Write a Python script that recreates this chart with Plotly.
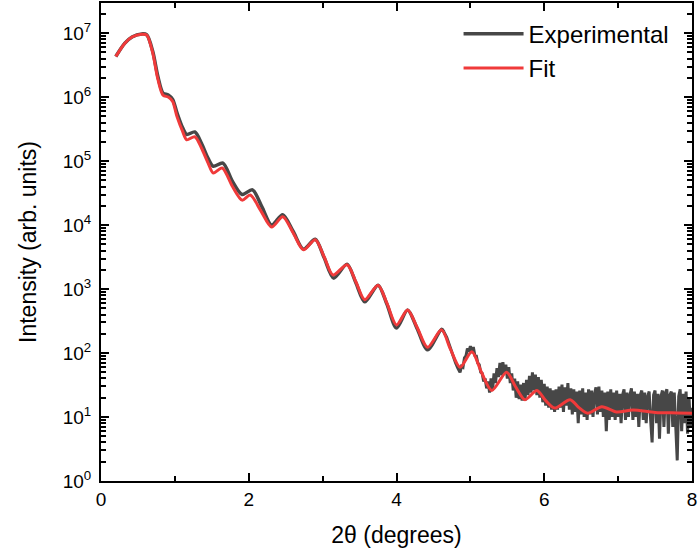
import plotly.graph_objects as go

# ---- Fit curve (key points) ----
fit_x = [0.20, 0.32, 0.42, 0.55, 0.62, 0.70, 0.77, 0.84, 0.91, 0.97, 1.03, 1.105, 1.16, 1.27, 1.36, 1.45,
         1.52, 1.64, 1.78, 1.91, 2.02, 2.16, 2.31, 2.46, 2.60, 2.74, 2.90, 3.02, 3.14, 3.33, 3.45,
         3.57, 3.75, 3.87, 4.00, 4.15, 4.28, 4.42, 4.61, 4.73, 4.86, 5.02, 5.15, 5.29, 5.49, 5.61,
         5.74, 5.90, 6.02, 6.14, 6.35, 6.47, 6.59, 6.78, 6.98, 7.20, 7.50, 7.80, 8.00]
fit_y = [4.3e6, 6.9e6, 8.7e6, 9.6e6, 9.3e6, 4.9e6, 1.9e6, 1.07e6, 1.0e6, 8.5e5, 4.9e5, 2.9e5, 2.15e5, 2.4e5, 1.6e5, 9.3e4,
         6.5e4, 7.8e4, 4.0e4, 2.45e4, 2.95e4, 1.7e4, 9.3e3, 1.35e4, 7.6e3, 4.1e3, 5.9e3, 3.2e3, 1.66e3, 2.4e3, 1.3e3,
         680, 1150, 600, 275, 470, 250, 123, 230, 115, 60, 105, 50, 26, 50, 30,
         18.6, 26, 18, 13.8, 18.6, 14, 11.5, 14.5, 12.0, 12.9, 11.8, 11.6, 11.5]

# ---- Experimental curve, smooth part ----
exp_x = [0.20, 0.32, 0.42, 0.55, 0.62, 0.70, 0.77, 0.84, 0.91, 0.97, 1.03, 1.105, 1.16, 1.27, 1.36, 1.45,
         1.52, 1.65, 1.78, 1.91, 2.05, 2.18, 2.31, 2.46, 2.60, 2.74, 2.90, 3.02, 3.15, 3.33, 3.45,
         3.57, 3.75, 3.87, 4.00, 4.15, 4.28, 4.42, 4.61, 4.64]
exp_y = [4.3e6, 6.9e6, 8.7e6, 9.7e6, 9.4e6, 5.2e6, 2.1e6, 1.15e6, 1.08e6, 9.2e5, 5.6e5, 3.3e5, 2.6e5, 2.85e5, 1.9e5, 1.1e5,
         8.3e4, 9.3e4, 4.8e4, 3.0e4, 3.55e4, 1.9e4, 1.0e4, 1.45e4, 8.0e3, 4.2e3, 6.0e3, 3.1e3, 1.48e3, 2.45e3, 1.25e3,
         630, 1150, 580, 245, 470, 240, 112, 235, 215]

# ---- Experimental curve, noisy part ----
noise_x = [4.64, 4.68, 4.71, 4.74, 4.77, 4.80, 4.83, 4.86, 4.88, 4.90, 4.92, 4.94, 4.96, 4.98, 5.00, 5.02, 5.04,
           5.06, 5.08, 5.10, 5.12, 5.14, 5.16, 5.18, 5.20, 5.22, 5.24, 5.26, 5.28, 5.30, 5.32, 5.34, 5.36, 5.38,
           5.40, 5.42, 5.44, 5.46, 5.48, 5.50, 5.52, 5.54, 5.56, 5.58, 5.60, 5.62, 5.64, 5.66, 5.68, 5.70, 5.72,
           5.74, 5.76, 5.78, 5.80, 5.82, 5.84, 5.86, 5.88, 5.90, 5.92, 5.94, 5.96, 5.98, 6.00, 6.02, 6.04, 6.06,
           6.08, 6.10, 6.12, 6.14, 6.16, 6.18, 6.20, 6.22, 6.24, 6.26, 6.28, 6.30, 6.32, 6.34, 6.36, 6.38, 6.40,
           6.42, 6.44, 6.46, 6.48, 6.50, 6.52, 6.54, 6.56, 6.58, 6.60, 6.62, 6.64, 6.66, 6.68, 6.70, 6.72, 6.74,
           6.76, 6.78, 6.80, 6.82, 6.84, 6.86, 6.88, 6.90, 6.92, 6.94, 6.96, 6.98, 7.00, 7.02, 7.04, 7.06, 7.08,
           7.10, 7.12, 7.14, 7.16, 7.18, 7.20, 7.22, 7.24, 7.26, 7.28, 7.30, 7.32, 7.34, 7.36, 7.38, 7.40, 7.42,
           7.44, 7.46, 7.48, 7.50, 7.52, 7.54, 7.56, 7.58, 7.60, 7.62, 7.64, 7.66, 7.68, 7.70, 7.72, 7.74, 7.76,
           7.78, 7.80, 7.82, 7.84, 7.86, 7.88, 7.90, 7.92, 7.94, 7.96, 7.98, 8.00]
noise_y = [215, 175, 140, 108, 85, 70, 58, 50, 62, 60, 84, 90, 118, 105, 128, 100, 124,
           92, 90, 70, 66, 50, 48, 36, 40, 28, 36, 24, 40, 26, 48, 34, 58, 42,
           70, 45, 72, 48, 66, 40, 60, 34, 48, 26, 40, 20, 36, 19, 32, 18, 34,
           18, 38, 22, 44, 24, 50, 26, 46, 22, 42, 20, 38, 17, 33, 15, 30, 14,
           28, 13, 26, 12, 27, 13, 30, 14, 32, 12, 29, 15, 34, 13, 28, 11, 27,
           12, 25, 8, 26, 11, 28, 10, 24, 9, 27, 11, 26, 10, 23, 29, 11, 30,
           12, 26, 10, 24, 6, 25, 9, 27, 10, 24, 9, 26, 10, 23, 8, 22, 27,
           9, 24, 10, 22, 28, 9, 25, 10, 23, 7, 22, 26, 9, 24, 8, 21, 25,
           9, 4.0, 22, 26, 8, 23, 4.6, 21, 26, 7, 24, 27, 5.5, 22, 25, 7, 24,
           9, 2.1, 21, 27, 6, 23, 8, 25, 5.5, 20, 7, 14]

ytick_vals = [1, 10, 100, 1e3, 1e4, 1e5, 1e6, 1e7]
ytick_text = ["10<sup>0</sup>", "10<sup>1</sup>", "10<sup>2</sup>", "10<sup>3</sup>",
              "10<sup>4</sup>", "10<sup>5</sup>", "10<sup>6</sup>", "10<sup>7</sup>"]
yminor_vals = [m * 10 ** k for k in range(0, 8) for m in range(2, 10)]
xtick_vals = [0, 2, 4, 6, 8]
xminor_vals = [1, 3, 5, 7]

GRAY = "#474747"
RED = "#f03a3a"
FONT = "Liberation Sans, Arial, sans-serif"

fig = go.Figure()
fig.add_trace(go.Scatter(x=exp_x, y=exp_y, mode="lines", name="Experimental",
                         line=dict(color=GRAY, width=3.5, shape="spline", smoothing=0.8)))
fig.add_trace(go.Scatter(x=noise_x, y=noise_y, mode="lines", name="Experimental", showlegend=False,
                         line=dict(color=GRAY, width=3)))
fig.add_trace(go.Scatter(x=fit_x, y=fit_y, mode="lines", name="Fit",
                         line=dict(color=RED, width=3, shape="spline", smoothing=0.8)))

axis_common = dict(showgrid=False, zeroline=False, showline=True, linecolor="black", linewidth=2,
                   mirror="ticks", ticks="inside", ticklen=8, tickwidth=2, tickcolor="black",
                   automargin=False, tickfont=dict(family=FONT, size=19, color="black"))

fig.update_xaxes(range=[0, 8], tickvals=xtick_vals,
                 minor=dict(tickvals=xminor_vals, ticks="inside", ticklen=5, tickwidth=2, tickcolor="black"),
                 title=dict(text="2θ (degrees)", font=dict(family=FONT, size=23, color="black"), standoff=18),
                 **axis_common)
fig.update_yaxes(type="log", range=[0, 7.47], tickvals=ytick_vals, ticktext=ytick_text, ticklabelstandoff=4,
                 minor=dict(tickvals=yminor_vals, ticks="inside", ticklen=5, tickwidth=2, tickcolor="black"),
                 title=dict(text="Intensity (arb. units)", font=dict(family=FONT, size=23, color="black"), standoff=20),
                 **axis_common)

fig.update_layout(
    width=698, height=559,
    margin=dict(l=101, r=6, t=3, b=78),
    paper_bgcolor="white", plot_bgcolor="white",
    font=dict(family=FONT, color="black"),
    legend=dict(x=0.605, y=0.982, xanchor="left", yanchor="top", bgcolor="rgba(0,0,0,0)",
                font=dict(family=FONT, size=24, color="black"), itemwidth=60, tracegroupgap=0),
)

fig.write_html("out.html")
